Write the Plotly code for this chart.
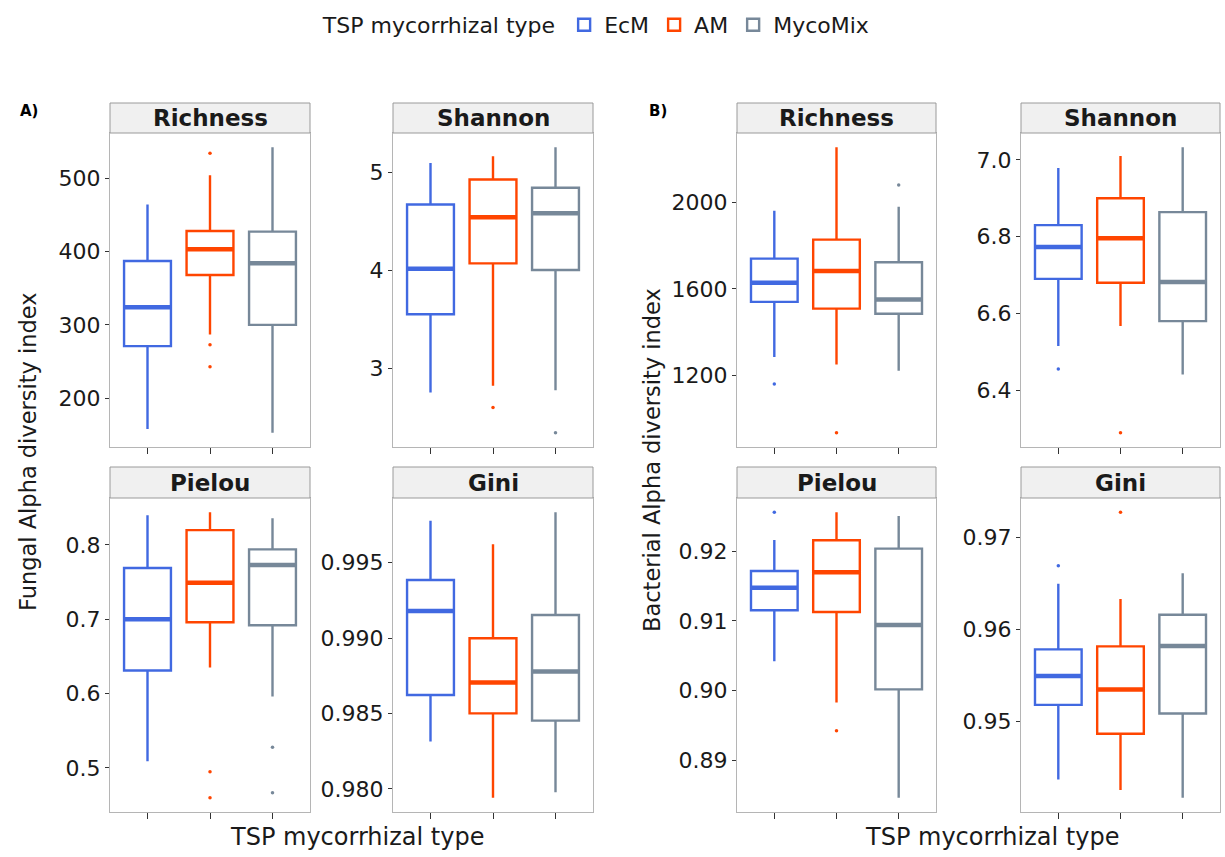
import plotly.graph_objects as go

# ---------------- data ----------------
groups = ["EcM", "AM", "MycoMix"]
group_pos = [1, 2, 3]

# Fungal (panel A)
fungal_richness = {"lower": [158, 287, 153], "q1": [271, 368, 300], "median": [324, 403, 384],
                   "q3": [387, 428, 427], "upper": [464, 504, 542]}
fungal_richness_out = [[], [534, 273, 243], []]

fungal_shannon = {"lower": [2.756, 2.824, 2.780], "q1": [3.553, 4.071, 4.003], "median": [4.017, 4.542, 4.583],
                  "q3": [4.671, 4.925, 4.841], "upper": [5.095, 5.163, 5.254]}
fungal_shannon_out = [[], [2.603], [2.346]]

fungal_pielou = {"lower": [0.509, 0.635, 0.596], "q1": [0.631, 0.696, 0.692], "median": [0.700, 0.749, 0.773],
                 "q3": [0.769, 0.820, 0.794], "upper": [0.840, 0.844, 0.836]}
fungal_pielou_out = [[], [0.4946, 0.4598], [0.5277, 0.4665]]

fungal_gini = {"lower": [0.98314, 0.97942, 0.97978], "q1": [0.98623, 0.98501, 0.98453],
               "median": [0.99180, 0.98705, 0.98778], "q3": [0.99385, 0.98999, 0.99153],
               "upper": [0.99778, 0.99622, 0.99834]}
fungal_gini_out = [[], [], []]

# Bacterial (panel B)
bacterial_richness = {"lower": [1285, 1251, 1222], "q1": [1540, 1509, 1485], "median": [1629, 1683, 1551],
                      "q3": [1740, 1828, 1723], "upper": [1962, 2255, 1980]}
bacterial_richness_out = [[1160], [935], [2080]]

bacterial_shannon = {"lower": [6.515, 6.567, 6.441], "q1": [6.690, 6.680, 6.580], "median": [6.773, 6.796, 6.682],
                     "q3": [6.830, 6.900, 6.864], "upper": [6.979, 7.010, 7.033]}
bacterial_shannon_out = [[6.455], [6.289], []]

bacterial_pielou = {"lower": [0.90419, 0.89829, 0.88459], "q1": [0.91152, 0.91128, 0.90016],
                    "median": [0.91478, 0.91698, 0.90941], "q3": [0.91717, 0.92158, 0.92038],
                    "upper": [0.92163, 0.92561, 0.92508]}
bacterial_pielou_out = [[0.92561], [0.89422], []]

bacterial_gini = {"lower": [0.94372, 0.94256, 0.94173], "q1": [0.95181, 0.94867, 0.95087],
                  "median": [0.95495, 0.95347, 0.95820], "q3": [0.95783, 0.95816, 0.96159],
                  "upper": [0.96495, 0.96329, 0.96610]}
bacterial_gini_out = [[0.96690], [0.97271], []]

# tick labels
fungal_richness_ticks = [200, 300, 400, 500]
fungal_shannon_ticks = [3, 4, 5]
fungal_pielou_ticks = [0.5, 0.6, 0.7, 0.8]
fungal_gini_ticks = [0.980, 0.985, 0.990, 0.995]
bacterial_richness_ticks = [1200, 1600, 2000]
bacterial_shannon_ticks = [6.4, 6.6, 6.8, 7.0]
bacterial_pielou_ticks = [0.89, 0.90, 0.91, 0.92]
bacterial_gini_ticks = [0.95, 0.96, 0.97]

# ---------------- styling / layout ----------------
colors = {"EcM": "#4169E1", "AM": "#FF4500", "MycoMix": "#778899"}
W, H = 1225, 857
cols_px = [(110, 310), (393, 593), (737, 936), (1021, 1220)]
rows_px = [((103, 133), (133, 447)), ((467, 498), (498, 812))]

panels = [
    ("Richness", fungal_richness, fungal_richness_out, fungal_richness_ticks, "d", 0, 0),
    ("Shannon", fungal_shannon, fungal_shannon_out, fungal_shannon_ticks, "d", 1, 0),
    ("Pielou", fungal_pielou, fungal_pielou_out, fungal_pielou_ticks, ".1f", 0, 1),
    ("Gini", fungal_gini, fungal_gini_out, fungal_gini_ticks, ".3f", 1, 1),
    ("Richness", bacterial_richness, bacterial_richness_out, bacterial_richness_ticks, "d", 2, 0),
    ("Shannon", bacterial_shannon, bacterial_shannon_out, bacterial_shannon_ticks, ".1f", 3, 0),
    ("Pielou", bacterial_pielou, bacterial_pielou_out, bacterial_pielou_ticks, ".2f", 2, 1),
    ("Gini", bacterial_gini, bacterial_gini_out, bacterial_gini_ticks, ".2f", 3, 1),
]

FONT = "DejaVu Sans, Liberation Sans, Arial, sans-serif"
BOX_HALF = 0.375

fig = go.Figure()
layout_axes = {}
shapes = []
annotations = []

for i, (title, st, outs, ticks, fmt, c, r) in enumerate(panels, start=1):
    xs = "" if i == 1 else str(i)
    x0, x1 = cols_px[c]
    (s0, s1), (p0, p1) = rows_px[r]
    xdom = [x0 / W, x1 / W]
    ydom = [1 - p1 / H, 1 - p0 / H]

    allvals = st["lower"] + st["upper"] + [v for o in outs for v in o]
    lo, hi = min(allvals), max(allvals)
    span = hi - lo

    for gi, g in enumerate(groups):
        pos = group_pos[gi]
        col = colors[g]
        fig.add_trace(go.Box(
            x=[pos], q1=[st["q1"][gi]], median=[st["median"][gi]], q3=[st["q3"][gi]],
            lowerfence=[st["lower"][gi]], upperfence=[st["upper"][gi]],
            width=2 * BOX_HALF, whiskerwidth=0, fillcolor="white",
            line=dict(color=col, width=2.4), boxpoints=False,
            name=g, legendgroup=g, showlegend=(i == 1), hoverinfo="skip",
            xaxis="x" + xs, yaxis="y" + xs))
        fig.add_trace(go.Scatter(
            x=[pos - BOX_HALF, pos + BOX_HALF], y=[st["median"][gi]] * 2, mode="lines",
            line=dict(color=col, width=4.5), showlegend=False, hoverinfo="skip",
            xaxis="x" + xs, yaxis="y" + xs))
        if outs[gi]:
            fig.add_trace(go.Scatter(
                x=[pos] * len(outs[gi]), y=outs[gi], mode="markers",
                marker=dict(color=col, size=3.5), showlegend=False, hoverinfo="skip",
                xaxis="x" + xs, yaxis="y" + xs))

    layout_axes["xaxis" + xs] = dict(
        domain=xdom, range=[0.4, 3.6], tickvals=group_pos, ticktext=["", "", ""],
        ticks="outside", ticklen=6, tickwidth=1.2, tickcolor="#333333",
        showline=True, mirror=True, linecolor="#b5b5b5", linewidth=1,
        showgrid=False, zeroline=False, anchor="y" + xs, fixedrange=True)
    layout_axes["yaxis" + xs] = dict(
        domain=ydom, range=[lo - 0.05 * span, hi + 0.05 * span], tickvals=ticks,
        tickformat=fmt, ticks="outside", ticklen=4, tickwidth=1.2, tickcolor="#333333",
        tickfont=dict(size=22, color="#1a1a1a", family=FONT),
        showline=True, mirror=True, linecolor="#b5b5b5", linewidth=1,
        showgrid=False, zeroline=False, anchor="x" + xs, fixedrange=True)

    # strip
    shapes.append(dict(type="rect", xref="paper", yref="paper",
                       x0=x0 / W, x1=x1 / W, y0=1 - s1 / H, y1=1 - s0 / H,
                       fillcolor="#f0f0f0", line=dict(color="#9a9a9a", width=1)))
    annotations.append(dict(text="<b>%s</b>" % title, xref="paper", yref="paper",
                            x=(x0 + x1) / 2 / W, y=1 - (s0 + s1) / 2 / H,
                            showarrow=False, xanchor="center", yanchor="middle",
                            font=dict(size=23, color="#1a1a1a", family=FONT)))

# axis titles and panel labels
for txt, x, y, ang, sz in [
    ("Fungal Alpha diversity index", 28, 452, -90, 22.5),
    ("Bacterial Alpha diversity index", 652, 460, -90, 22.5),
    ("TSP mycorrhizal type", 357, 837, 0, 24),
    ("TSP mycorrhizal type", 992, 837, 0, 24),
]:
    annotations.append(dict(text=txt, xref="paper", yref="paper", x=x / W, y=1 - y / H,
                            showarrow=False, xanchor="center", yanchor="middle", textangle=ang,
                            font=dict(size=sz, color="#1a1a1a", family=FONT)))
for txt, x, y in [("A)", 29, 111), ("B)", 658, 111)]:
    annotations.append(dict(text="<b>%s</b>" % txt, xref="paper", yref="paper", x=x / W, y=1 - y / H,
                            showarrow=False, xanchor="center", yanchor="middle",
                            font=dict(size=15, color="#000000", family=FONT)))

fig.update_layout(
    width=W, height=H, margin=dict(l=0, r=0, t=0, b=0),
    paper_bgcolor="white", plot_bgcolor="white",
    font=dict(family=FONT, size=22, color="#1a1a1a"),
    showlegend=True, boxmode="overlay",
    legend=dict(orientation="h", x=0.488, xanchor="center", y=1 - 4 / H, yanchor="top",
                title=dict(text="TSP mycorrhizal type", side="left", font=dict(size=22)),
                font=dict(size=22), itemwidth=30, bgcolor="rgba(0,0,0,0)"),
    shapes=shapes, annotations=annotations, **layout_axes)

fig.write_html("out.html")
